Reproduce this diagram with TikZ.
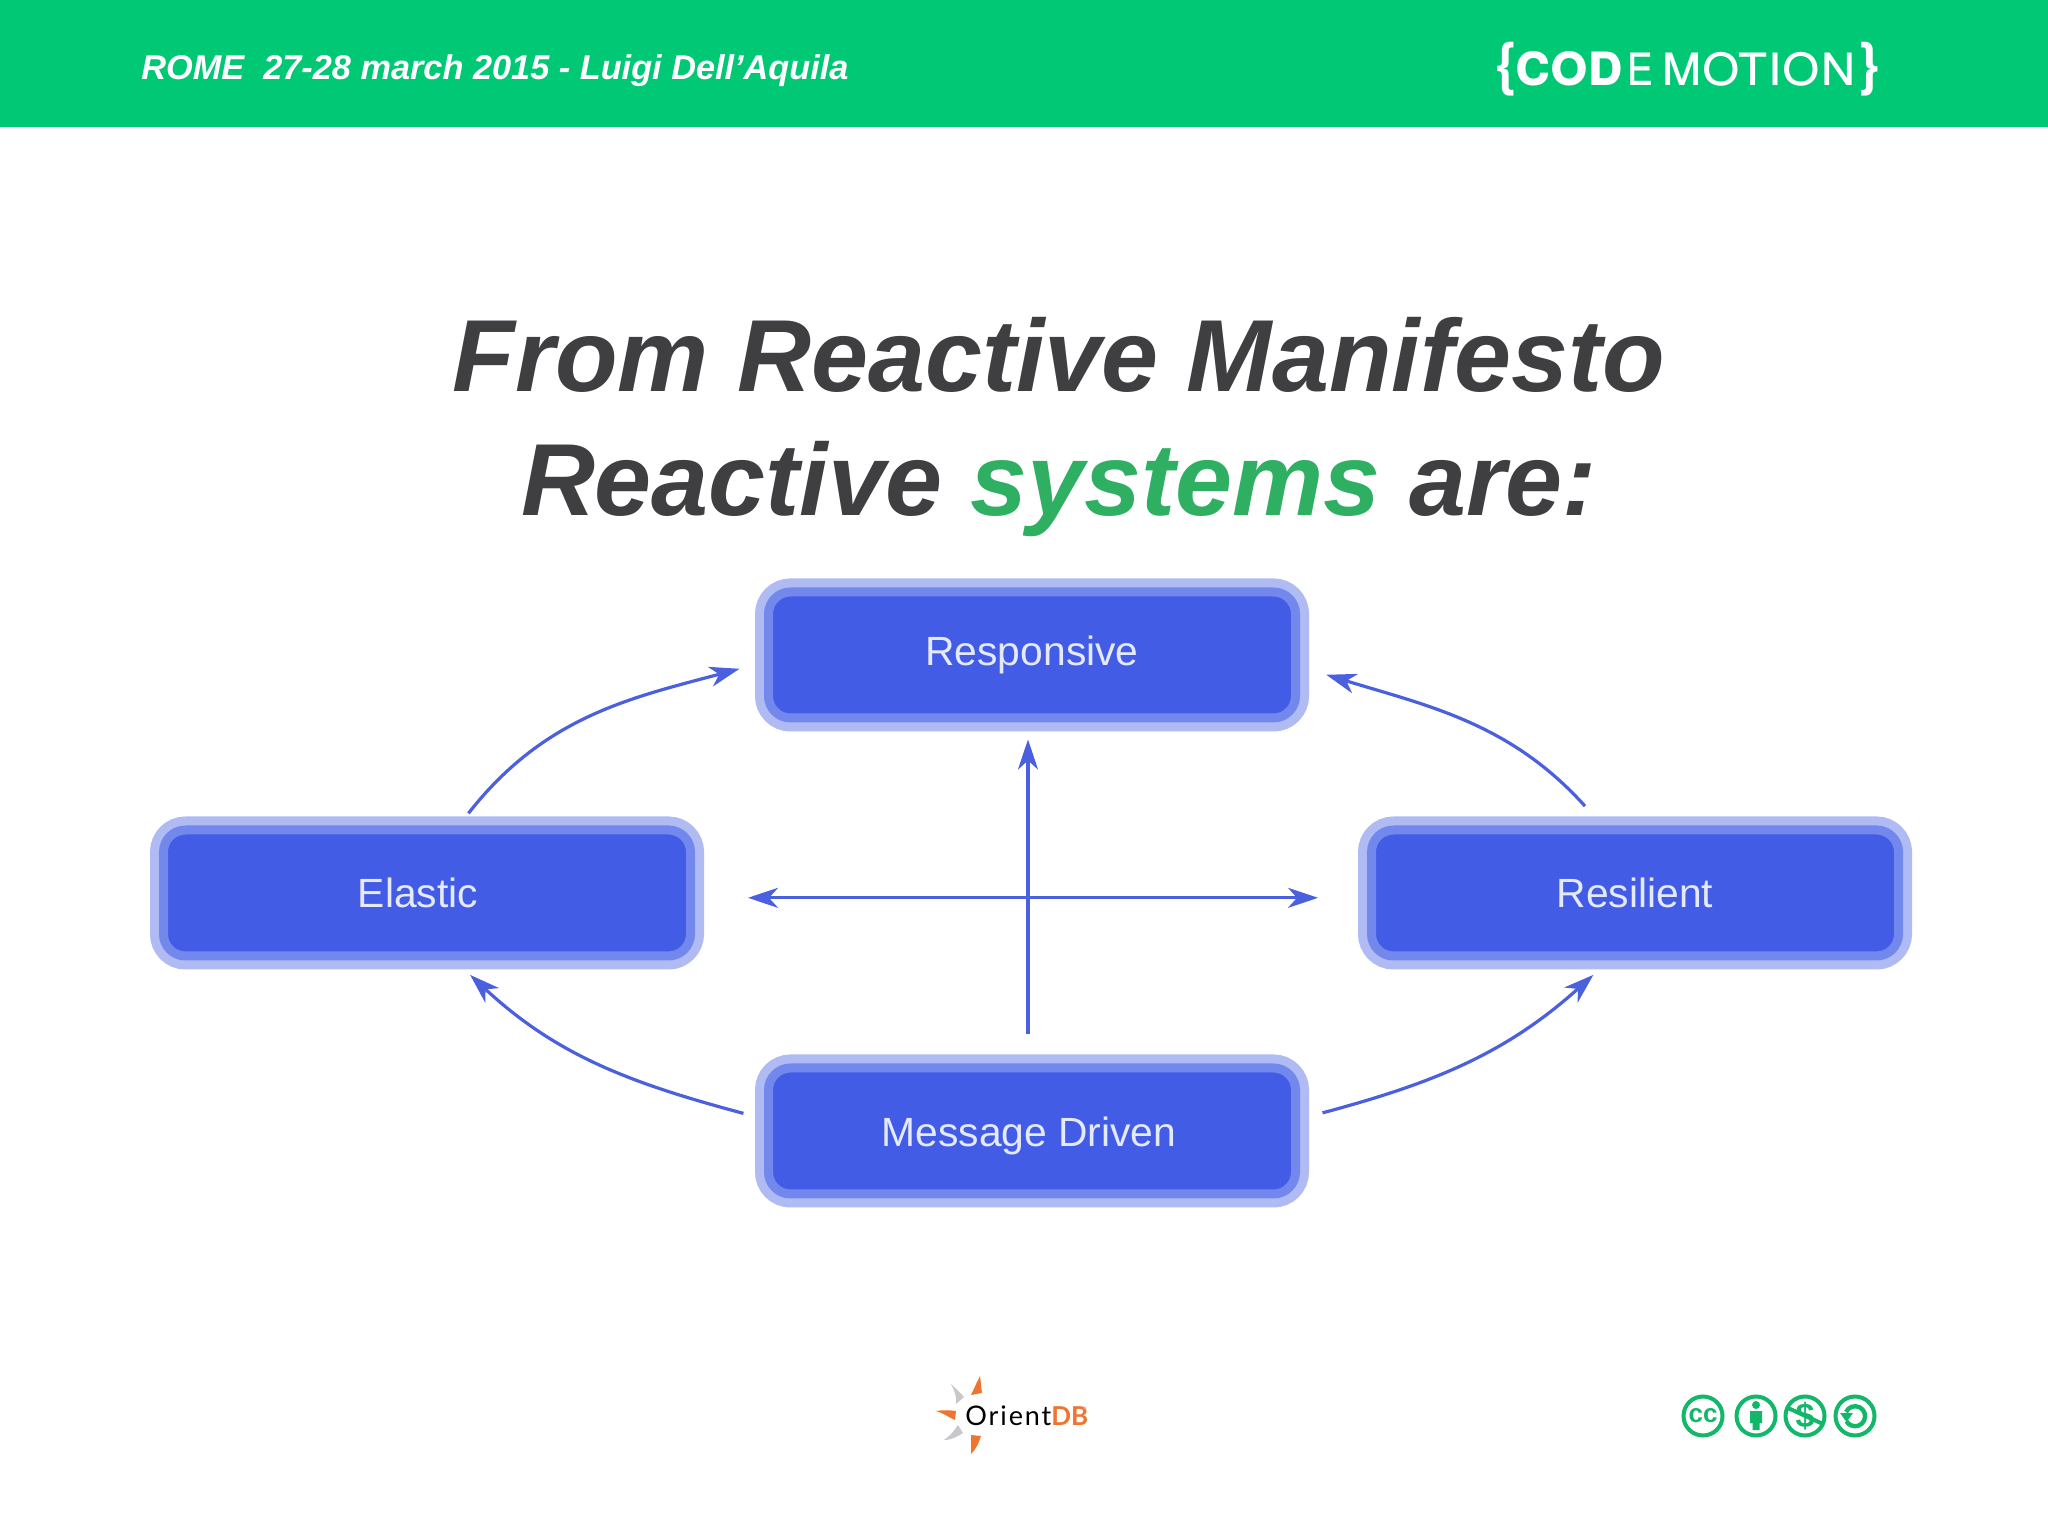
\documentclass[tikz,border=0pt]{standalone}
\usepackage{fontspec}
\setmainfont{Liberation Sans}
\newfontfamily\heros{TeX Gyre Heros}
\newfontfamily\lato{Lato}
\usetikzlibrary{arrows.meta}
\usetikzlibrary{positioning}
\definecolor{headgreen}{HTML}{00C875}
\definecolor{titlegray}{HTML}{3F3F42}
\definecolor{titlegreen}{HTML}{2EAF62}
\definecolor{boxblue}{HTML}{435CE6}
\definecolor{boxmid}{HTML}{7288EC}
\definecolor{boxlight}{HTML}{B0BBF3}
\definecolor{boxtext}{HTML}{E4E9FC}
\definecolor{flowblue}{HTML}{4A60DE}
\definecolor{logoorange}{HTML}{EE7430}
\definecolor{logogray}{HTML}{C8C8CC}
\definecolor{ccgreen}{HTML}{12B76A}

\begin{document}
\begin{tikzpicture}[x=0.5pt,y=0.5pt]
\tikzstyle{box node}=[rectangle,rounded corners=11pt,fill=boxblue,draw=boxmid,line width=4.5pt,
  preaction={draw=boxlight,line width=13.5pt},outer sep=6.75pt,
  minimum width=263.5pt,minimum height=63pt,text=boxtext,font=\fontsize{20.4}{24}\selectfont]
\tikzstyle{title node}=[anchor=base,text=titlegray,font=\fontsize{51.2}{60}\selectfont\bfseries\itshape]
\tikzset{
  flow/.style = {draw=flowblue,line width=1.6pt,-{Stealth[length=15pt,width=10pt,inset=4.5pt]}},
  both/.style = {draw=flowblue,line width=1.6pt,{Stealth[length=15pt,width=10pt,inset=4.5pt]}-{Stealth[length=15pt,width=10pt,inset=4.5pt]}},
  logo node/.style = {text=white,inner sep=0,anchor=base west},
  cc ring/.style = {draw=ccgreen,line width=2pt}
}
\useasboundingbox (0,0) rectangle (2048,1536);
\fill[white] (0,0) rectangle (2048,1536);
\fill[headgreen] (0,1409) rectangle (2048,1536);

    \node[anchor=base west,inner sep=0,text=white,font=\fontsize{17.15}{20}\selectfont\bfseries\itshape] (head) at (141,1456)
        {ROME\ \ 27-28 march 2015 - Luigi Dell’Aquila};
    \node[logo node,font=\fontsize{29}{34}\selectfont\heros\bfseries] (brl) at (1495,1451) {\{};
    \node[logo node,font=\fontsize{31}{40}\selectfont\heros\bfseries\scshape,xscale=0.95] (cod) at (1515,1450) {cod};
    \node[logo node,font=\fontsize{31}{40}\selectfont\heros\scshape,xscale=0.8] (cde) at (1626,1450) {e};
    \node[logo node,font=\fontsize{31}{40}\selectfont\heros\scshape,xscale=0.97] (motion) at (1661,1450) {motion};
    \node[logo node,font=\fontsize{29}{34}\selectfont\heros\bfseries] (brr) at (1857,1451) {\}};
    %%%%%%%%%%%%%%%%%%%%%%%%%%%%%%%%%%%%%%%%%%
    \node[title node] (t1) at (1059,1144) {From Reactive Manifesto};
    \node[title node] (t2) at (1059,1020) {Reactive \textcolor{titlegreen}{systems} are:};
    %%%%%%%%%%%%%%%%%%%%%%%%%%%%%%%%%%%%%%%%%%
    \node[box node] (resp) at (1032,881) {Responsive};
    \node[box node] (msg) [below=161.5pt of resp] {\rule{0pt}{20pt}Message Driven\hspace*{3pt}};
    \node[box node] (el) [below left=42.5pt and 25.5pt of resp] {Elastic\hspace*{9pt}};
    \node[box node] (res) [below right=42.5pt and 24.5pt of resp] {Resilient};

    \path
         (el.63) edge[flow,out=52,in=195,shorten <=2pt,shorten >=8pt] (resp.182.5)
         (res.118) edge[flow,out=132,in=-17,shorten <=7pt,shorten >=9pt] (resp.357.5)
         (msg.177) edge[flow,out=165,in=-43,shorten <=6pt,shorten >=4pt] (el.296)
         (msg.3) edge[flow,out=15,in=222,shorten <=7pt,shorten >=4pt] (res.245)
         (msg.93) edge[flow,shorten <=10pt,shorten >=4pt] (resp.267)
         (el.359) edge[both,shorten <=22pt,shorten >=20pt] (res.181)
    ;

    % orientdb logo
    \fill[logoorange] (980,160) .. controls (975,150) and (973,145) .. (971,141) -- (982,143) .. controls (981,150) and (981,153) .. cycle;
    \fill[logogray] (951,152) .. controls (957,140) and (956,138) .. (956,132) -- (964,139) .. controls (960,144) and (955,148) .. cycle;
    \fill[logoorange] (936,125) .. controls (945,122) and (950,118) .. (955,116) -- (956,125) .. controls (950,126) and (942,126) .. cycle;
    \fill[logogray] (944,96) .. controls (952,96) and (958,100) .. (963,103) -- (958,111) .. controls (954,105) and (950,100) .. cycle;
    \fill[logoorange] (971,82) .. controls (977,88) and (979,94) .. (981,100) -- (971,101) .. controls (971,95) and (971,88) .. cycle;
    \node[anchor=base west,inner sep=0,font=\fontsize{13.5}{16}\selectfont\lato\addfontfeature{LetterSpace=7}] (orient) at (965,111) {Orient};
    \node[anchor=base west,inner sep=0,text=logoorange,font=\fontsize{13}{16}\selectfont\lato\bfseries] (db) at (1051,111) {DB};
    \node[inner sep=0,text=logogray,font=\fontsize{3}{4}\selectfont] (reg) at (1085,128) {®};

    % licence icons
    \node[circle,cc ring,minimum size=19.5pt,inner sep=0,text=ccgreen,font=\fontsize{13}{14}\selectfont\bfseries] (cc) at (1703,120) {cc};
    \node[circle,cc ring,minimum size=19.5pt,inner sep=0] (by) at (1756,120) {};
    \node[circle,cc ring,minimum size=19.5pt,inner sep=0,text=ccgreen,font=\fontsize{17}{18}\selectfont\bfseries] (nc) at (1805,120) {\$};
    \node[circle,cc ring,minimum size=19.5pt,inner sep=0] (sa) at (1855,120) {};
    \fill[ccgreen] (1756,131) circle (4);
    \fill[ccgreen] (1750,125) rectangle (1762,113) (1752.5,113) rectangle (1759.5,106);
    \draw[ccgreen,line width=2pt] (1788,128) -- (1823,112);
    \draw[ccgreen,line width=2.2pt] (1846,124) arc[start angle=155,end angle=-150,radius=10];
    \fill[ccgreen] (1840,123) -- (1853,123) -- (1846.5,114) -- cycle;
\end{tikzpicture}
\end{document}
